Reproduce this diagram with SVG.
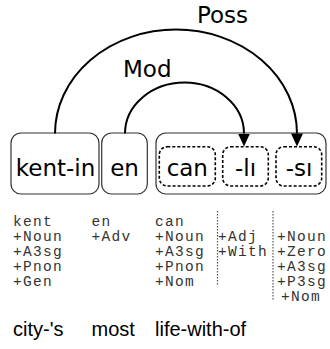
<svg xmlns="http://www.w3.org/2000/svg" width="330" height="349" viewBox="0 0 330 349">
<style>
.box{fill:#fff;stroke:#333;stroke-width:1.2}
.dbox{fill:none;stroke:#000;stroke-width:1.6;stroke-dasharray:3,2}
.lbl{font-family:"DejaVu Sans",Verdana,sans-serif;font-size:23px;fill:#000}
.arc{fill:none;stroke:#000;stroke-width:2}
.mono{font-family:"Liberation Mono","Courier New",monospace;font-size:14.5px;letter-spacing:1.3px;fill:#333}
.gloss{font-family:"Liberation Sans",Arial,sans-serif;font-size:20px;fill:#000}
.sep{stroke:#555;stroke-width:1.2;stroke-dasharray:1.5,1.5}
</style>
<defs>
<marker id="ah" markerUnits="userSpaceOnUse" viewBox="0 0 13 12" refX="0" refY="6" markerWidth="13" markerHeight="12" orient="auto">
<path d="M0,0 L13,6 L0,12 z" fill="#000"/>
</marker>
</defs>
<g id="node-kent-in">
<rect class="box" x="11" y="133" width="88" height="61" rx="10"/>
<text class="lbl" x="55.5" y="176" text-anchor="middle">kent-in</text>
</g>
<g id="node-en">
<rect class="box" x="101.7" y="133" width="45.6" height="61" rx="10"/>
<text class="lbl" x="124.5" y="176" text-anchor="middle">en</text>
</g>
<g id="node-canlisi">
<rect class="box" x="156" y="133" width="170" height="61" rx="10"/>
<g id="node-can">
<rect class="dbox" x="159.3" y="146.7" width="56" height="39.3" rx="8"/>
<text class="lbl" x="187.3" y="176" text-anchor="middle">can</text>
</g>
<g id="node-li">
<rect class="dbox" x="222.7" y="146.7" width="45.6" height="39.3" rx="8"/>
<text class="lbl" x="245.5" y="176" text-anchor="middle">-lı</text>
</g>
<g id="node-si">
<rect class="dbox" x="276" y="146.7" width="45.7" height="39.3" rx="8"/>
<text class="lbl" x="299" y="176" text-anchor="middle">-sı</text>
</g>
</g>
<g id="connectors">
<path class="arc" d="M55,133.5 A121,104 0 0 1 297,133.5" marker-end="url(#ah)"/>
<text class="lbl" x="197" y="23">Poss</text>
<path class="arc" d="M125,133.5 A59.5,51 0 0 1 244,133.5" marker-end="url(#ah)"/>
<text class="lbl" x="123" y="77">Mod</text>
</g>
<g id="analysis">
<line class="sep" x1="217.5" y1="211" x2="217.5" y2="285"/>
<line class="sep" x1="273" y1="211" x2="273" y2="300"/>
<text class="mono"><tspan x="13" y="226">kent</tspan><tspan x="13" y="241">+Noun</tspan><tspan x="13" y="256">+A3sg</tspan><tspan x="13" y="271">+Pnon</tspan><tspan x="13" y="286">+Gen</tspan></text>
<text class="mono"><tspan x="91.5" y="226">en</tspan><tspan x="91.5" y="241">+Adv</tspan></text>
<text class="mono"><tspan x="155" y="226">can</tspan><tspan x="155" y="241">+Noun</tspan><tspan x="155" y="256">+A3sg</tspan><tspan x="155" y="271">+Pnon</tspan><tspan x="155" y="286">+Nom</tspan></text>
<text class="mono"><tspan x="218" y="241">+Adj</tspan><tspan x="218" y="256">+With</tspan></text>
<text class="mono"><tspan x="277" y="241">+Noun</tspan><tspan x="277" y="256">+Zero</tspan><tspan x="277" y="271">+A3sg</tspan><tspan x="277" y="286">+P3sg</tspan><tspan x="281" y="301">+Nom</tspan></text>
<text class="gloss" x="13" y="336">city-'s</text>
<text class="gloss" x="91.5" y="336">most</text>
<text class="gloss" x="155" y="336">life-with-of</text>
</g>
</svg>
